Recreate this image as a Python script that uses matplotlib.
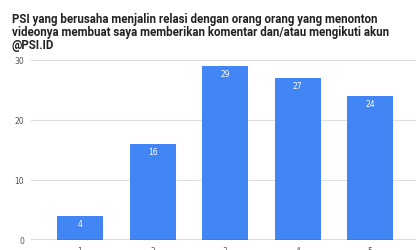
import matplotlib
matplotlib.use("Agg")
import matplotlib.pyplot as plt

categories = ["1", "2", "3", "4", "5"]
counts = [4, 16, 29, 27, 24]
title = ("PSI yang berusaha menjalin relasi dengan orang orang yang menonton\n"
         "videonya membuat saya memberikan komentar dan/atau mengikuti akun\n"
         "@PSI.ID")

W, H = 416, 251
fig = plt.figure(figsize=(W / 100, H / 100), dpi=100)
ax = fig.add_axes([31 / W, 1 - 241 / H, (W - 31) / W, 180 / H])

x = list(range(len(categories)))
bars = ax.bar(x, counts, width=0.635, color="#4285F4", zorder=3)
for xi, v in zip(x, counts):
    ax.text(xi, v - 1.3, str(v), ha="center", va="center", color="white",
            fontsize=5.5, zorder=4)

ax.set_xlim(-0.676, 4.63)
ax.set_ylim(0, 30)
ax.set_yticks([0, 10, 20, 30])
ax.set_xticks(x)
ax.set_xticklabels(categories)
ax.grid(axis="y", color="#e0e0e0", linewidth=0.8, zorder=0)
ax.axhline(0, color="#555555", linewidth=1, zorder=5)
for s in ax.spines.values():
    s.set_visible(False)
ax.tick_params(axis="both", length=0, labelsize=5.5, labelcolor="#555555")
ax.tick_params(axis="y", pad=5)
ax.tick_params(axis="x", pad=4)

fig.text(12 / W, 1 - 13 / H, title, ha="left", va="top", fontsize=8.3,
         fontweight="bold", color="#222222", linespacing=0.98,
         family="Roboto")

fig.savefig("out.png", dpi=100)
